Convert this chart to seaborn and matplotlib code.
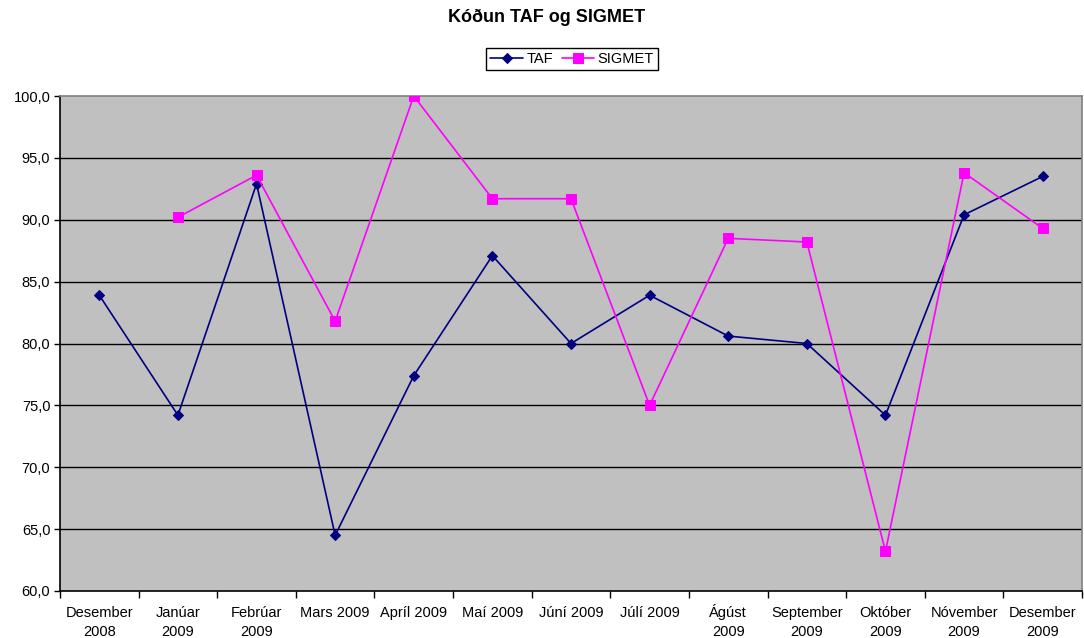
import matplotlib
matplotlib.use("Agg")
import matplotlib.pyplot as plt
import matplotlib.transforms as mtrans
import seaborn as sns
import numpy as np
import pandas as pd
from matplotlib.ticker import FuncFormatter, FixedLocator, NullFormatter

categories = ["Desember\n2008", "Janúar\n2009", "Febrúar\n2009", "Mars 2009", "Apríl 2009",
              "Maí 2009", "Júní 2009", "Júlí 2009", "Ágúst\n2009", "September\n2009",
              "Október\n2009", "Nóvember\n2009", "Desember\n2009"]
taf = [83.9, 74.2, 92.9, 64.5, 77.4, 87.1, 80.0, 83.9, 80.6, 80.0, 74.2, 90.4, 93.5]
sigmet = [np.nan, 90.2, 93.6, 81.8, 100.0, 91.7, 91.7, 75.0, 88.5, 88.2, 63.2, 93.8, 89.3]

sns.set_theme(style="white")
plt.rcParams['font.family'] = ['Liberation Sans', 'DejaVu Sans']
plt.rcParams['text.color'] = 'black'
plt.rcParams['xtick.color'] = 'black'
plt.rcParams['ytick.color'] = 'black'

x = np.arange(len(categories))
df = pd.DataFrame({"x": np.concatenate([x, x]),
                   "val": taf + sigmet,
                   "series": ["TAF"] * len(x) + ["SIGMET"] * len(x)})

fig = plt.figure(figsize=(10.84, 6.38), dpi=100)
ax = fig.add_axes([60/1084, 1 - 591/638, 1022/1084, 495/638])
ax.set_facecolor("#C0C0C0")

for yv in [65, 70, 75, 80, 85, 90, 95]:
    ax.axhline(yv, color="black", lw=1.0, zorder=1)

sns.lineplot(data=df[df.series == "TAF"], x="x", y="val", ax=ax, color="#000080",
             marker="D", markersize=5.5, markeredgecolor="#000080", lw=1.2,
             label="TAF", sort=False, zorder=3, legend=False)
sns.lineplot(data=df[df.series == "SIGMET"].dropna(), x="x", y="val", ax=ax, color="#FF00FF",
             marker="s", markersize=6.5, markeredgecolor="#FF00FF", lw=1.2,
             label="SIGMET", sort=False, zorder=4, legend=False)

ax.set_xlim(-0.5, len(categories) - 0.5)
ax.set_ylim(60, 100)
ax.set_xlabel("")
ax.set_ylabel("")

ax.xaxis.set_major_locator(FixedLocator(np.arange(-0.5, len(categories), 1.0)))
ax.xaxis.set_major_formatter(NullFormatter())
ax.tick_params(axis="x", which="major", direction="out", length=5, width=1, color="black", bottom=True)

# category labels, first line baselines aligned
trans = mtrans.blended_transform_factory(ax.transData, ax.transAxes)
for xi, lab in zip(x, categories):
    for j, line in enumerate(lab.split("\n")):
        ax.annotate(line, xy=(xi, 0), xycoords=trans, xytext=(0, -26 - 19 * j),
                    textcoords="offset pixels", ha="center", va="baseline",
                    fontsize=10.5, annotation_clip=False)

ax.set_yticks([60, 65, 70, 75, 80, 85, 90, 95, 100])
ax.yaxis.set_major_formatter(FuncFormatter(lambda v, p: f"{v:.1f}".replace(".", ",")))
ax.tick_params(axis="y", direction="out", length=4, width=1, color="black", labelsize=10.5, left=True, pad=3)

ax.spines["left"].set_color("black")
ax.spines["bottom"].set_color("black")
ax.spines["top"].set_color("#808080")
ax.spines["right"].set_color("#808080")
for s in ax.spines.values():
    s.set_linewidth(1.2)

fig.text(547/1084, 1 - 17/638, "Kóðun TAF og SIGMET", ha="center", va="center",
         fontsize=13, fontweight="bold")

h, l = ax.get_legend_handles_labels()
leg = fig.legend(h, l, loc="center", bbox_to_anchor=(572/1084, 1 - 59/638), ncol=2,
                 fontsize=10.5, frameon=True, fancybox=False, edgecolor="black",
                 handlelength=2.2, handletextpad=0.25, columnspacing=0.6,
                 borderpad=0.3, borderaxespad=0, framealpha=1)
leg.get_frame().set_linewidth(1.0)

fig.savefig("out.png", dpi=100, facecolor="white")
